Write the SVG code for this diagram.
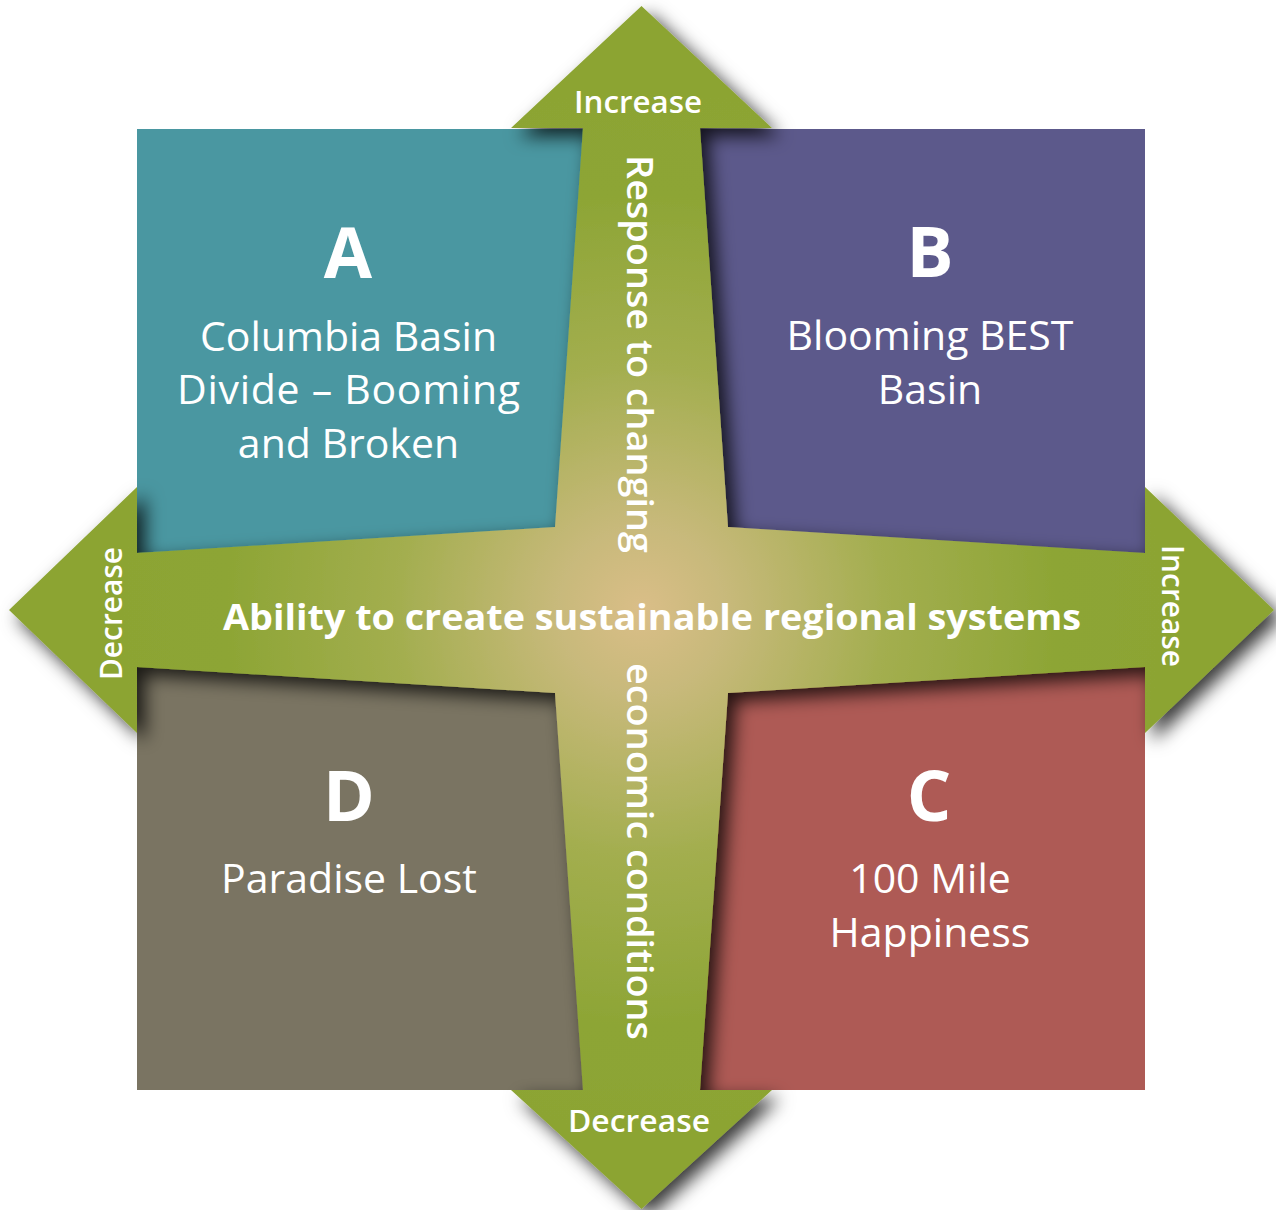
<svg xmlns="http://www.w3.org/2000/svg" width="1276" height="1210" viewBox="0 0 1276 1210">
  <style>
    .lbl { font-family: "Open Sans", "Liberation Sans", sans-serif; fill: #ffffff; }
    .big { font-size: 70px; font-weight: 700; text-anchor: middle; }
    .name { font-size: 41px; font-weight: 400; text-anchor: middle; }
    .axis { font-size: 36px; font-weight: 600; }
    .dir { font-size: 31px; font-weight: 600; text-anchor: middle; }
    .center { font-size: 36px; font-weight: 700; text-anchor: middle; }
  </style>
  <defs>
    <radialGradient id="glow" gradientUnits="userSpaceOnUse" cx="641.5" cy="610" r="520">
      <stop offset="0" stop-color="#dabe88"/>
      <stop offset="0.17" stop-color="#c7b97a"/>
      <stop offset="0.47" stop-color="#a3ae4f"/>
      <stop offset="0.8" stop-color="#8da535"/>
      <stop offset="1" stop-color="#8ca433"/>
    </radialGradient>
    <filter id="shadow" x="-10%" y="-10%" width="125%" height="125%">
      <feDropShadow dx="8" dy="8" stdDeviation="9" flood-color="#000000" flood-opacity="0.78"/>
    </filter>
  </defs>

  <g id="quadrant-A">
    <rect x="137" y="129" width="510" height="485" fill="#4a97a1"/>
  </g>
  <g id="quadrant-B">
    <rect x="636" y="129" width="509" height="485" fill="#5c598b"/>
  </g>
  <g id="quadrant-D">
    <rect x="137" y="605" width="510" height="485" fill="#7a7462"/>
  </g>
  <g id="quadrant-C">
    <rect x="636" y="605" width="509" height="485" fill="#ae5a55"/>
  </g>

  <g id="connectors">
    <polygon id="axis-cross" filter="url(#shadow)" fill="url(#glow)"
      points="641.5,6 772,128 700,128 728,527 1145,553 1145,487 1274,610 1145,733 1145,667 728,693 700,1090 772,1090 641.5,1209 511,1090 583,1090 555,693 137,667 137,733 9,610 137,487 137,553 555,527 583,128 511,128"/>
  </g>

  <g id="label-A" class="lbl">
    <text class="big" x="348" y="278">A</text>
    <text class="name" x="348.5" y="351">Columbia Basin</text>
    <text class="name" x="348.5" y="404" textLength="343" lengthAdjust="spacing">Divide – Booming</text>
    <text class="name" x="348.5" y="458">and Broken</text>
  </g>
  <g id="label-B" class="lbl">
    <text class="big" x="930" y="277">B</text>
    <text class="name" x="930" y="350">Blooming BEST</text>
    <text class="name" x="930" y="404">Basin</text>
  </g>
  <g id="label-D" class="lbl">
    <text class="big" x="349" y="821">D</text>
    <text class="name" x="349" y="893">Paradise Lost</text>
  </g>
  <g id="label-C" class="lbl">
    <text class="big" x="929" y="821">C</text>
    <text class="name" x="930" y="893">100 Mile</text>
    <text class="name" x="930" y="947">Happiness</text>
  </g>

  <g id="axis-labels" class="lbl">
    <text class="center" x="652" y="630" textLength="858" lengthAdjust="spacingAndGlyphs">Ability to create sustainable regional systems</text>
    <text class="axis" transform="translate(627,155) rotate(90)" x="0" y="0" textLength="398" lengthAdjust="spacingAndGlyphs">Response to changing</text>
    <text class="axis" transform="translate(627,663) rotate(90)" x="0" y="0" textLength="377" lengthAdjust="spacingAndGlyphs">economic conditions</text>
    <text class="dir" x="638" y="113" textLength="128" lengthAdjust="spacingAndGlyphs">Increase</text>
    <text class="dir" x="639" y="1132" textLength="142" lengthAdjust="spacingAndGlyphs">Decrease</text>
    <text class="dir" transform="translate(122,613.5) rotate(-90)" x="0" y="0" textLength="133" lengthAdjust="spacingAndGlyphs">Decrease</text>
    <text class="dir" transform="translate(1162,606) rotate(90)" x="0" y="0" textLength="122" lengthAdjust="spacingAndGlyphs">Increase</text>
  </g>
</svg>
